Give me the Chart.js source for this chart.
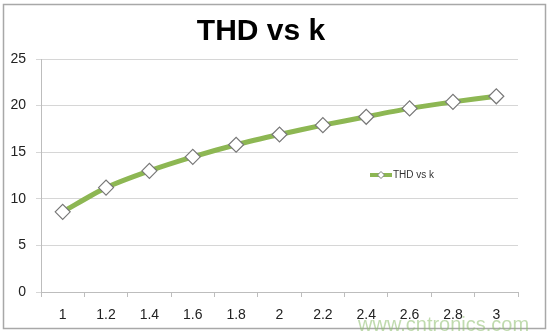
<!DOCTYPE html>
<html>
<head>
<meta charset="utf-8">
<script src="https://cdn.jsdelivr.net/npm/chart.js@4.4.1/dist/chart.umd.min.js"></script>
<style>
  html, body { margin: 0; padding: 0; background: #ffffff; }
  #wrap { width: 550px; height: 333px; position: relative; }
</style>
</head>
<body>
<div id="wrap"><canvas id="c" width="550" height="333"></canvas></div>
<script>
const titleText = "THD vs k";
const seriesName = "THD vs k";
const watermark = "www.cntronics.com";
const categories = ["1", "1.2", "1.4", "1.6", "1.8", "2", "2.2", "2.4", "2.6", "2.8", "3"];
const thdValues = [8.6, 11.2, 13.0, 14.5, 15.8, 16.9, 17.9, 18.8, 19.7, 20.4, 21.0];
const yTicks = [0, 5, 10, 15, 20, 25];

const FONT = "'Liberation Sans', Arial, sans-serif";
const GREEN = "#8db753";

const decorPlugin = {
  id: 'decor',
  beforeDraw(chart) {
    const ctx = chart.ctx;
    ctx.save();
    ctx.fillStyle = '#ffffff';
    ctx.fillRect(0, 0, chart.width, chart.height);
    ctx.strokeStyle = '#a8a8a8';
    ctx.lineWidth = 1.5;
    ctx.strokeRect(3.5, 4.5, 542, 324);
    ctx.restore();
  },
  afterDraw(chart) {
    const ctx = chart.ctx;
    ctx.save();
    // title
    ctx.fillStyle = '#000000';
    ctx.font = "bold 30px " + FONT;
    ctx.textAlign = 'center';
    ctx.textBaseline = 'middle';
    ctx.fillText(titleText, 261, 32);
    // legend (inside plot area, like the reference)
    const ds = chart.data.datasets[0];
    const ly = 175;
    ctx.strokeStyle = ds.borderColor;
    ctx.lineWidth = 4;
    ctx.beginPath();
    ctx.moveTo(370, ly);
    ctx.lineTo(392, ly);
    ctx.stroke();
    ctx.fillStyle = '#ffffff';
    ctx.strokeStyle = '#808080';
    ctx.lineWidth = 1;
    ctx.beginPath();
    ctx.moveTo(381, ly - 3.5);
    ctx.lineTo(384.5, ly);
    ctx.lineTo(381, ly + 3.5);
    ctx.lineTo(377.5, ly);
    ctx.closePath();
    ctx.fill();
    ctx.stroke();
    ctx.fillStyle = '#333333';
    ctx.font = "10px " + FONT;
    ctx.textAlign = 'left';
    ctx.textBaseline = 'middle';
    ctx.fillText(ds.label, 393, ly);
    // watermark
    ctx.fillStyle = 'rgba(140, 190, 110, 0.55)';
    ctx.font = "20px " + FONT;
    ctx.textAlign = 'left';
    ctx.textBaseline = 'alphabetic';
    ctx.fillText(watermark, 358, 331);
    ctx.restore();
  }
};

new Chart(document.getElementById('c'), {
  type: 'line',
  data: {
    labels: categories,
    datasets: [{
      label: seriesName,
      data: thdValues,
      borderColor: GREEN,
      borderWidth: 5,
      tension: 0.25,
      pointStyle: 'rectRot',
      pointRadius: 7.5,
      pointHoverRadius: 7.5,
      pointBackgroundColor: '#ffffff',
      pointBorderColor: '#787878',
      pointBorderWidth: 1.2
    }]
  },
  options: {
    responsive: false,
    animation: false,
    devicePixelRatio: 1,
    layout: { padding: { left: 0, right: 32, top: 59, bottom: 0 } },
    plugins: {
      legend: { display: false },
      title: { display: false },
      tooltip: { enabled: false }
    },
    scales: {
      x: {
        type: 'category',
        offset: true,
        grid: {
          display: true,
          offset: true,
          drawOnChartArea: false,
          drawTicks: true,
          tickLength: 5,
          color: '#bdbdbd'
        },
        border: { display: true, color: '#bdbdbd' },
        ticks: {
          color: '#222222',
          font: { family: FONT, size: 14 },
          padding: 10,
          maxRotation: 0,
          autoSkip: false
        },
        afterFit(scale) { scale.height = 41; }
      },
      y: {
        min: 0,
        max: 25,
        afterBuildTicks(scale) { scale.ticks = yTicks.map(v => ({ value: v })); },
        grid: {
          color: '#d6d6d6',
          drawTicks: true,
          tickLength: 5
        },
        border: { display: true, color: '#bdbdbd' },
        ticks: {
          color: '#222222',
          font: { family: FONT, size: 14 },
          padding: 10
        },
        afterFit(scale) { scale.width = 41; }
      }
    }
  },
  plugins: [decorPlugin]
});
</script>
</body>
</html>
